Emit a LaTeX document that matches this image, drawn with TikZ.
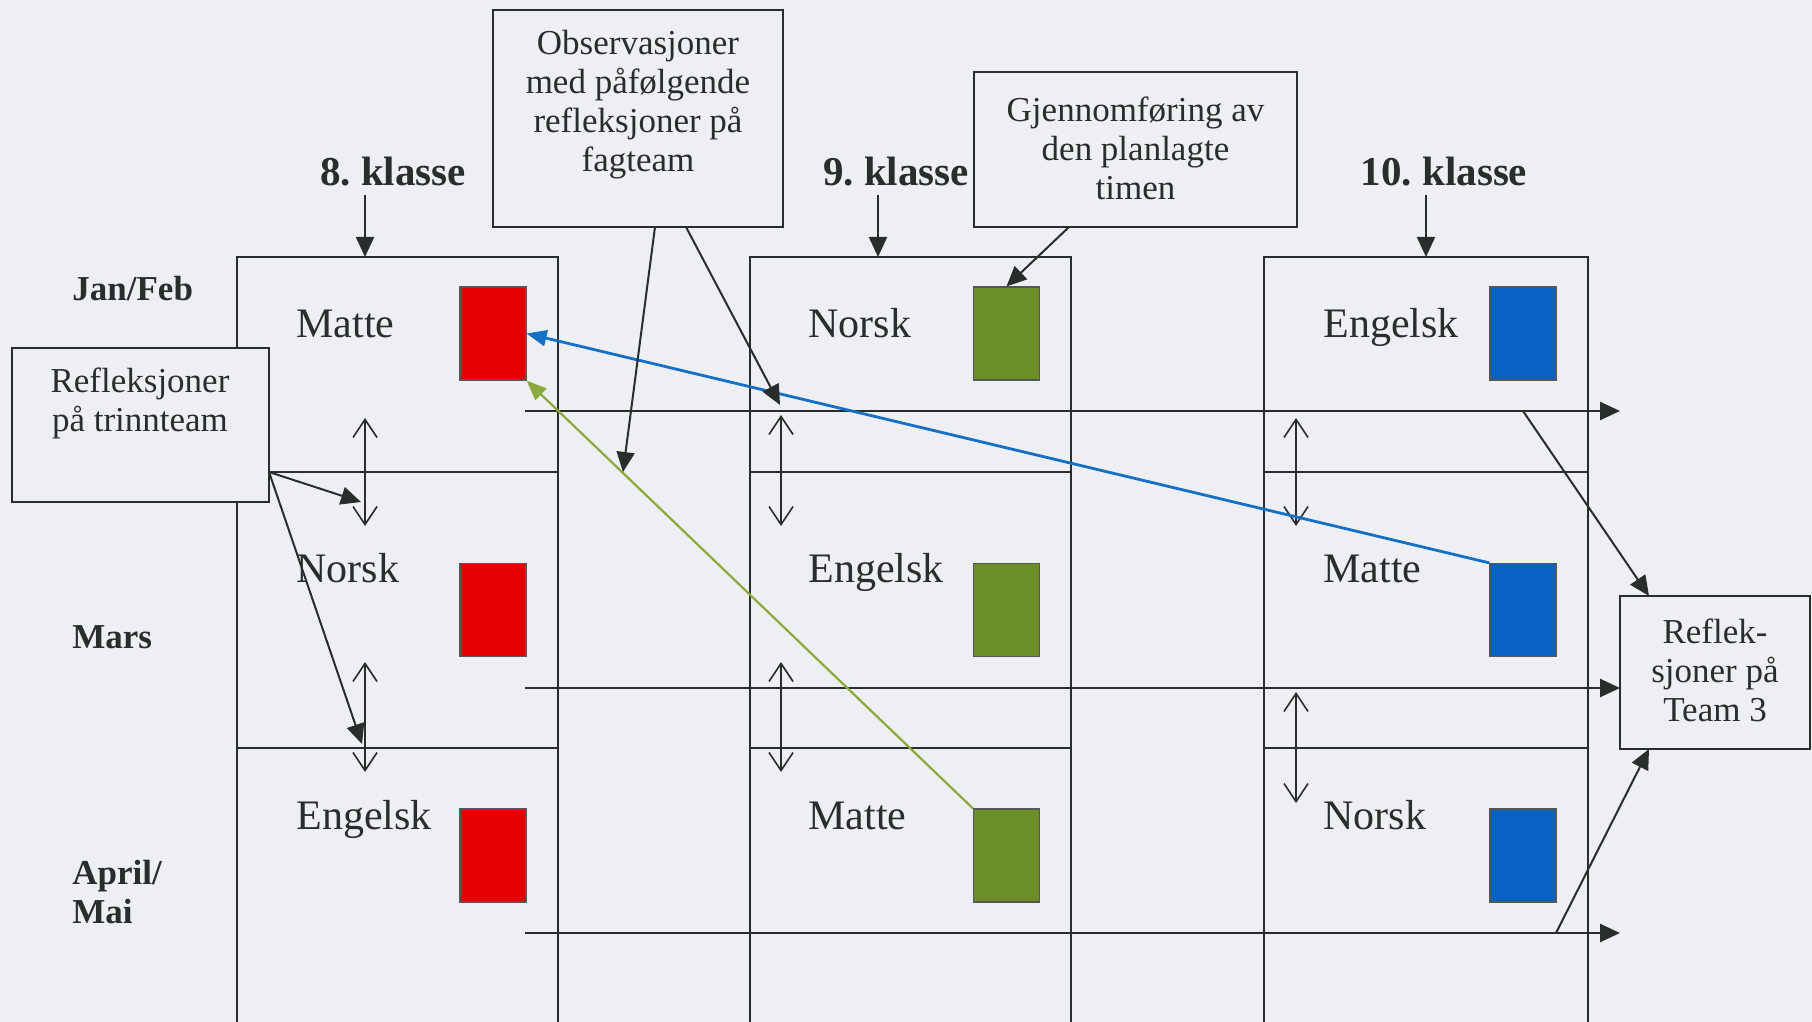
\documentclass[tikz,border=0pt]{standalone}
\usepackage{fontspec}
\setmainfont{Liberation Serif}
\usetikzlibrary{arrows.meta}
\definecolor{bg}{RGB}{238,239,242}
\definecolor{ink}{RGB}{40,46,43}
\definecolor{cred}{RGB}{228,0,0}
\definecolor{cgreen}{RGB}{108,142,38}
\definecolor{cblue}{RGB}{8,98,196}
\definecolor{lblue}{RGB}{20,112,196}
\definecolor{lgreen}{RGB}{138,170,60}
\tikzset{
  colline/.style={draw=ink, line width=1pt},
  hline/.style={draw=ink, line width=1.3pt, -{Triangle[length=10pt,width=9pt]}},
  dbl/.style={draw=ink, line width=0.8pt, {Straight Barb[length=9pt,width=12pt]}-{Straight Barb[length=9pt,width=12pt]}},
  arr/.style={draw=ink, line width=1pt, -{Triangle[length=10pt,width=9pt]}},
  sq/.style={draw=ink!80, line width=0.6pt, minimum width=33pt, minimum height=46.5pt, inner sep=0pt},
  box/.style={draw=ink, fill=bg, line width=1pt, inner sep=0pt},
  btext/.style={text=ink, align=center, font=\fontsize{17.5}{19.5}\selectfont, inner sep=0pt},
  klasse/.style={text=ink, font=\fontsize{20.5}{22}\selectfont\bfseries, anchor=base, inner sep=0pt},
  month/.style={text=ink, font=\fontsize{17.5}{19.5}\selectfont\bfseries, anchor=base west, align=left, inner sep=0pt},
  fag/.style={text=ink, font=\fontsize{21}{23}\selectfont, anchor=base west, inner sep=0pt}
}
\frenchspacing
\begin{document}
\begin{tikzpicture}[x=0.5pt,y=-0.5pt]
\fill[bg] (0,0) rectangle (1812,1022);
\useasboundingbox (0,0) rectangle (1812,1022);

% columns
\foreach \l/\r in {237/558, 750/1071, 1264/1588}{
  \draw[colline] (\l,1022) -- (\l,257) -- (\r,257) -- (\r,1022);
  \draw[colline] (\l,472) -- (\r,472);
  \draw[colline] (\l,748) -- (\r,748);
}

% class labels
\node[klasse] (k8) at (393,185) {8.\ klasse};
\node[klasse] (k9) at (896,185) {9.\ klasse};
\node[klasse] (k10) at (1444,186) {10.\ klasse};
\coordinate (c8) at (365,257);
\coordinate (c9) at (878,257);
\coordinate (c10) at (1426,257);
\draw[arr] (365,195) -- (c8);
\draw[arr] (878,195) -- (c9);
\draw[arr] (1426,195) -- (c10);

% month labels
\node[month] (m1) at (72,300) {Jan/Feb};
\node[month] (m2) at (72,648) {Mars};
\node[month] (m3) at (72,923) {April/\\Mai};

% subject labels
\node[fag] (f11) at (296,337) {Matte};
\node[fag] (f12) at (296,582) {Norsk};
\node[fag] (f13) at (296,829) {Engelsk};
\node[fag] (f21) at (808,337) {Norsk};
\node[fag] (f22) at (808,582) {Engelsk};
\node[fag] (f23) at (808,829) {Matte};
\node[fag] (f31) at (1323,337) {Engelsk};
\node[fag] (f32) at (1323,582) {Matte};
\node[fag] (f33) at (1323,829) {Norsk};

% coloured squares
\node[sq, fill=cred] (r1) at (493,333.5) {};
\node[sq, fill=cred] (r2) at (493,610) {};
\node[sq, fill=cred] (r3) at (493,855.5) {};
\node[sq, fill=cgreen] (g1) at (1006.5,333.5) {};
\node[sq, fill=cgreen] (g2) at (1006.5,610) {};
\node[sq, fill=cgreen] (g3) at (1006.5,855.5) {};
\node[sq, fill=cblue] (b1) at (1523,333.5) {};
\node[sq, fill=cblue] (b2) at (1523,610) {};
\node[sq, fill=cblue] (b3) at (1523,855.5) {};

% horizontal time arrows
\coordinate (h1s) at (525,411); \coordinate (h1e) at (1620,411);
\coordinate (h2s) at (525,688); \coordinate (h2e) at (1620,688);
\coordinate (h3s) at (525,933); \coordinate (h3e) at (1620,933);
\draw[hline] (h1s) -- (h1e);
\draw[hline] (h2s) -- (h2e);
\draw[hline] (h3s) -- (h3e);

% double arrows
\draw[dbl] (365,418) -- (365,526);
\draw[dbl] (365,662) -- (365,772);
\draw[dbl] (781,415) -- (781,526);
\draw[dbl] (781,662) -- (781,772);
\draw[dbl] (1296,418) -- (1296,526);
\draw[dbl] (1296,692) -- (1296,803);

% text boxes
\node[box, minimum width=145pt, minimum height=108.5pt] (obs) at (638,118.5) {};
\node[btext] (obst) at (638,105) {Observasjoner\\med påfølgende\\refleksjoner på\\fagteam};
\node[box, minimum width=161.5pt, minimum height=77.5pt] (gjen) at (1135.5,149.5) {};
\node[btext] (gjent) at (1135.5,148) {Gjennomføring av\\den planlagte\\timen};
\node[box, minimum width=128.5pt, minimum height=77pt] (trinn) at (140,425) {};
\node[btext] (trinnt) at (140,403) {Refleksjoner\\på trinnteam};
\node[box, minimum width=95pt, minimum height=76.5pt] (team) at (1715,672.5) {};
\node[btext] (teamt) at (1715,670) {Reflek-\\sjoner på\\Team 3};

% coloured feedback arrows
\draw[draw=lblue, line width=1.4pt, -{Triangle[length=10pt,width=8pt]}, fill=lblue] (b2.north west) -- (r1.east);
\draw[draw=lgreen, line width=1.1pt, -{Triangle[length=10pt,width=8pt]}, fill=lgreen] (g3.north west) -- (r1.south east);

% box connectors
\coordinate (o1) at (623,472);
\coordinate (o2) at (780,405);
\draw[arr] (655,227) -- (o1);
\draw[arr] (686,227) -- (o2);
\draw[arr] (1069,227) -- (g1.north);
\coordinate (t1) at (361,502);
\coordinate (t2) at (362,744);
\draw[arr] (269,472) -- (t1);
\draw[arr] (269,472) -- (t2);
\coordinate (q1) at (1523,411);
\coordinate (q2) at (1556,933);
\draw[arr] (q1) -- (1649,596);
\draw[arr] (q2) -- (1649,749);
\end{tikzpicture}
\end{document}
